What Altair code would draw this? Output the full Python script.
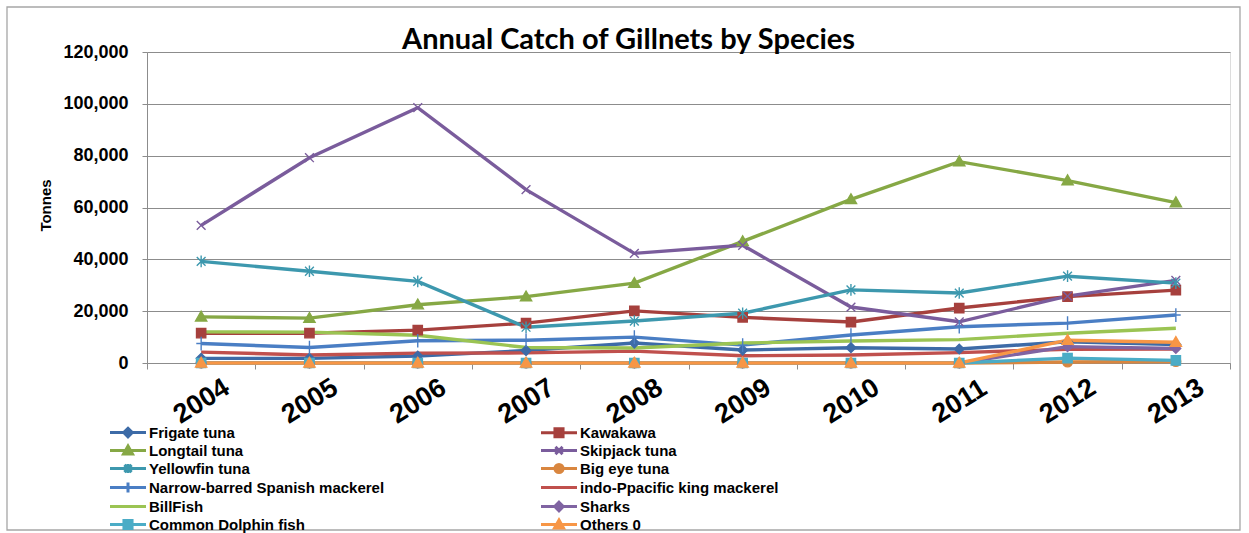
import altair as alt
import pandas as pd

# Annual gillnet catch (tonnes) by species, 2004-2013
years = ["2004", "2005", "2006", "2007", "2008", "2009", "2010", "2011", "2012", "2013"]

species = [
    "Frigate tuna", "Kawakawa", "Longtail tuna", "Skipjack tuna",
    "Yellowfin tuna", "Big eye tuna", "Narrow-barred Spanish mackerel",
    "indo-Ppacific  king mackerel", "BillFish", "Sharks",
    "Common Dolphin  fish", "Others 0",
]

frigate_tuna = [1800, 1800, 2700, 4800, 7700, 5000, 5900, 5400, 8200, 7100]
kawakawa = [11500, 11500, 12700, 15400, 20100, 17600, 15800, 21200, 25600, 28100]
longtail_tuna = [17800, 17300, 22500, 25600, 30800, 46900, 63100, 77700, 70400, 61900]
skipjack_tuna = [53100, 79200, 98500, 66900, 42300, 45400, 21600, 15900, 25800, 31900]
yellowfin_tuna = [39200, 35400, 31500, 13800, 16200, 19200, 28200, 27000, 33500, 30800]
big_eye_tuna = [0, 0, 0, 0, 0, 0, 0, 0, 400, 600]
spanish_mackerel = [7500, 6000, 8600, 8800, 10000, 6900, 10800, 14000, 15400, 18500]
king_mackerel = [4200, 3100, 3800, 3900, 4600, 2800, 3100, 4000, 5300, 5400]
billfish = [12000, 11900, 10700, 6000, 5800, 7700, 8500, 9000, 11500, 13400]
sharks = [0, 0, 0, 0, 0, 0, 0, 0, 6300, 5600]
dolphin_fish = [0, 0, 0, 0, 0, 0, 0, 0, 1900, 1000]
others = [0, 0, 0, 0, 0, 0, 0, 0, 8800, 8000]

catch = [
    frigate_tuna, kawakawa, longtail_tuna, skipjack_tuna, yellowfin_tuna,
    big_eye_tuna, spanish_mackerel, king_mackerel, billfish, sharks,
    dolphin_fish, others,
]

colors = [
    "#3D6BA7", "#A6403D", "#86A845", "#7A5C9C", "#3D98AE", "#D9863F",
    "#4A7EC4", "#C0504D", "#9BC453", "#8064A2", "#4BACC6", "#F79646",
]

# marker glyphs drawn in the unit square
DIAMOND = "M0,-1L1,0L0,1L-1,0Z"
SQUARE = "M-0.95,-0.95H0.95V0.95H-0.95Z"
TRIANGLE = "M0,-1.15L1.15,0.85H-1.15Z"
CROSS = "M-0.9,-0.9L0.9,0.9M-0.9,0.9L0.9,-0.9"
STAR = "M-0.9,-0.9L0.9,0.9M-0.9,0.9L0.9,-0.9M0,-1.2V1.2"
CIRCLE = "M-1,0A1,1,0,1,0,1,0A1,1,0,1,0,-1,0Z"
PLUS = "M-1,0H1M0,-1.4V1.4"
NONE = "M0,0Z"

markers = [DIAMOND, SQUARE, TRIANGLE, CROSS, STAR, CIRCLE, PLUS, NONE,
           NONE, DIAMOND, SQUARE, TRIANGLE]

# legend keys: a line segment with the marker in its middle
LINE = "M-1,0H7"
KEY_MARK = {
    DIAMOND: "M3,-0.95L3.95,0L3,0.95L2.05,0Z",
    SQUARE: "M2.1,-0.9H3.9V0.9H2.1Z",
    TRIANGLE: "M3,-1L4,0.8H2Z",
    CROSS: "M2.2,-0.8L3.8,0.8M2.2,0.8L3.8,-0.8",
    STAR: "M2.2,-0.8L3.8,0.8M2.2,0.8L3.8,-0.8M3,-1V1",
    CIRCLE: "M2.1,0A0.9,0.9,0,1,0,3.9,0A0.9,0.9,0,1,0,2.1,0Z",
    PLUS: "M3,-1.1V1.1",
    NONE: "",
}
legend_keys = [LINE + KEY_MARK[m] for m in markers]

rows = []
for i, (name, values) in enumerate(zip(species, catch)):
    for yr, v in zip(years, values):
        rows.append({"year": yr, "species": name, "tonnes": v, "k": i})
df = pd.DataFrame(rows)

FONT = "Liberation Sans"
GRAY = "#8C8C8C"

x_enc = alt.X(
    "year:O",
    sort=years,
    scale=alt.Scale(type="band", paddingInner=0, paddingOuter=0),
    axis=alt.Axis(
        title=None, labelAngle=-32, labelAlign="center", labelBaseline="middle",
        labelFontSize=27, labelFontWeight="bold", labelFont=FONT, labelColor="#000",
        labelPadding=32, tickSize=6, tickBand="extent", tickColor=GRAY,
        domainColor=GRAY, grid=False, labelOverlap=False, labelBound=False,
    ),
)
y_enc = alt.Y(
    "tonnes:Q",
    scale=alt.Scale(domain=[0, 120000], nice=False),
    axis=alt.Axis(
        title="Tonnes", values=[0, 20000, 40000, 60000, 80000, 100000, 120000],
        format=",.0f", labelFontSize=18, labelFontWeight="bold", labelFont=FONT,
        labelColor="#000", labelPadding=14, tickSize=5, tickColor=GRAY,
        domainColor=GRAY, gridColor=GRAY, gridWidth=1,
        titleFont=FONT, titleFontSize=15, titleFontWeight="bold", titleColor="#000",
        titleAngle=-90, titleAlign="center", titleBaseline="middle",
        titleX=-102, titleY=153,
    ),
)

color_scale = alt.Scale(domain=species, range=colors)
base = alt.Chart(df)

frame = alt.Chart(pd.DataFrame({"k": [0]})).mark_rect(
    fill="transparent", stroke="#A6A6A6", strokeWidth=1.3
).encode(
    x=alt.value(-140), x2=alt.value(1093), y=alt.value(-45), y2=alt.value(478)
)

lines = base.mark_line(strokeWidth=3.4).encode(
    x=x_enc, y=y_enc,
    color=alt.Color("species:N", scale=color_scale, legend=None),
)

points = base.mark_point(filled=True, size=95, strokeWidth=1.4, opacity=1).encode(
    x=x_enc, y=y_enc,
    fill=alt.Fill("species:N", scale=color_scale, legend=None),
    stroke=alt.Stroke("species:N", scale=color_scale, legend=None),
    shape=alt.Shape("species:N", scale=alt.Scale(domain=species, range=markers), legend=None),
    order=alt.Order("k:Q"),
)

legend = alt.Legend(
    title=None, orient="none", legendX=-40, legendY=373, columns=2,
    direction="horizontal", columnPadding=150, rowPadding=-3, padding=0,
    labelFont=FONT, labelFontSize=15, labelFontWeight="bold", labelColor="#000",
    labelOffset=27, labelLimit=0, symbolSize=81, symbolStrokeWidth=3,
    symbolOpacity=1,
)

keys = base.transform_filter("false").mark_point(
    filled=True, size=81, strokeWidth=3, opacity=1
).encode(
    x=x_enc, y=y_enc,
    fill=alt.Fill("species:N", scale=color_scale, legend=legend),
    stroke=alt.Stroke("species:N", scale=color_scale, legend=legend),
    shape=alt.Shape("species:N", scale=alt.Scale(domain=species, range=legend_keys), legend=legend),
)

chart = (
    alt.layer(frame, lines, points, keys)
    .resolve_scale(shape="independent", fill="independent", stroke="independent")
    .properties(
        width=1083, height=311,
        autosize=alt.AutoSizeParams(type="none"),
        padding={"left": 147, "top": 52, "right": 19, "bottom": 170},
        title=alt.TitleParams(
            "Annual Catch of Gillnets by Species",
            font="Lato, DejaVu Sans Condensed, sans-serif",
            fontSize=29, fontWeight="bold", color="#000", anchor="middle",
            frame="group", dx=-60, dy=49, offset=0,
        ),
    )
    .configure_view(stroke=None)
    .configure(background="white")
)

chart.save("out.html", embed_options={"renderer": "svg", "actions": False})
